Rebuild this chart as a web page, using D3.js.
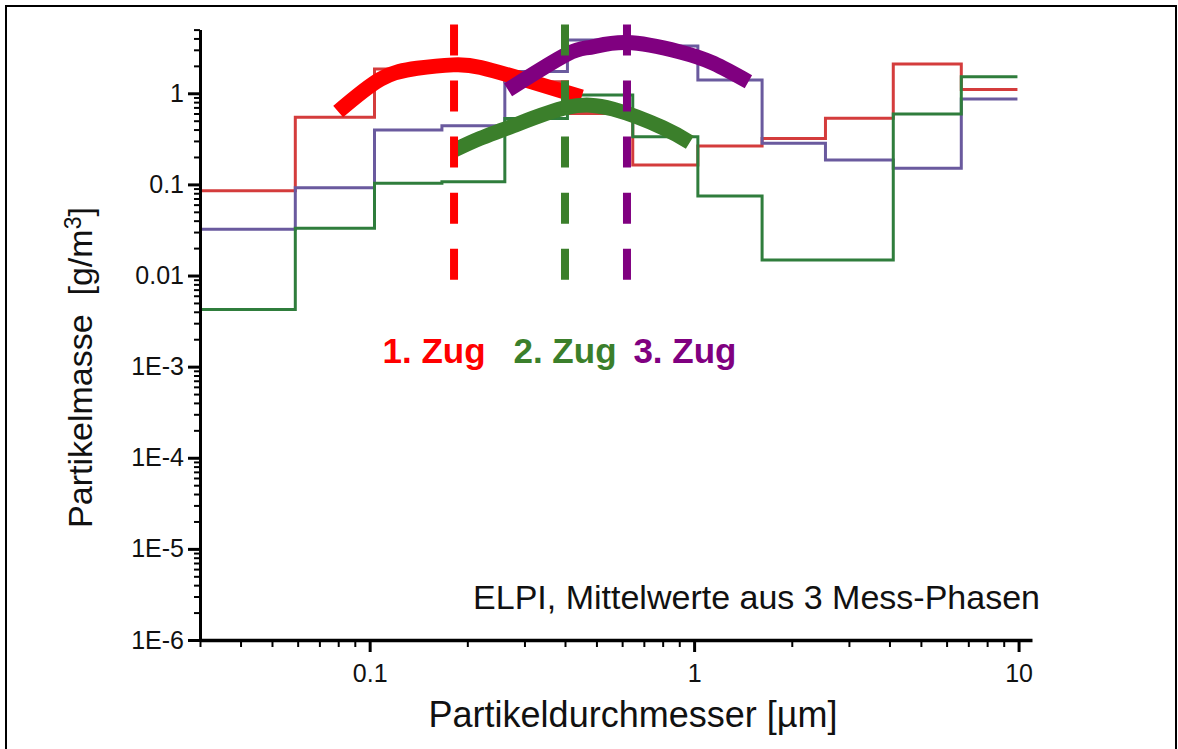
<!DOCTYPE html>
<html>
<head>
<meta charset="utf-8">
<script src="https://cdn.jsdelivr.net/npm/d3@7"></script>
<style>
  body { margin: 0; background: #fff; }
  text { font-family: "Liberation Sans", Arial, sans-serif; }
</style>
</head>
<body>
<div id="chart"></div>
<script>
// ELPI stage boundaries (µm)
var binEdges = [0.03, 0.059, 0.1035, 0.167, 0.261, 0.407, 0.647, 1.027, 1.62, 2.54, 4.11, 6.66, 9.92];

// step values, g/m3, one per stage
var redSteps    = [0.085, 0.545, 1.85, 1.85, 1.34, 0.60, 0.163, 0.264, 0.32, 0.531, 2.1, 1.1];
var purpleSteps = [0.0321, 0.092, 0.395, 0.44, 1.73, 3.85, 3.3, 1.4, 0.283, 0.185, 0.150, 0.866];
var greenSteps  = [0.00425, 0.033, 0.103, 0.107, 0.53, 0.96, 0.334, 0.0746, 0.0148, 0.0148, 0.593, 1.52];

// thick fitted curves [diameter, mass]
var redArc    = [[0.080, 0.63], [0.108, 1.43], [0.14, 1.88], [0.181, 2.05], [0.22, 1.92], [0.31, 1.36], [0.45, 0.91]];
var greenArc  = [[0.181, 0.235], [0.219, 0.32], [0.277, 0.44], [0.405, 0.70], [0.563, 0.67], [0.80, 0.42], [0.97, 0.29]];
var purpleArc = [[0.267, 1.09], [0.405, 2.68], [0.48, 3.2], [0.62, 3.6], [0.90, 2.86], [1.15, 2.13], [1.47, 1.34]];

// dashed markers at the modes
var modeX = [0.182, 0.400, 0.621];
var modeTop = 5.7, modeBottom = 0.0089;
var zugLabels = ["1. Zug", "2. Zug", "3. Zug"];
var zugLabelX = [0.158, 0.400, 0.937];

var yMajor = [1e-6, 1e-5, 1e-4, 1e-3, 0.01, 0.1, 1];
var yTickLabels = ["1E-6", "1E-5", "1E-4", "1E-3", "0.01", "0.1", "1"];
var xMajor = [0.1, 1, 10];
var xTickLabels = ["0.1", "1", "10"];

var W = 1178, H = 749;

var svg = d3.select('#chart')
	.append('svg')
	.attr('width', W)
	.attr('height', H);

svg.append('rect')
	.attr('width', W).attr('height', H)
	.attr('fill', '#fff');

// outer frame (bottom edge falls outside the picture)
svg.append('rect')
	.attr('x', 6).attr('y', 6)
	.attr('width', 1170).attr('height', 780)
	.attr('fill', 'none')
	.attr('stroke', '#000')
	.attr('stroke-width', 2);

var x = d3.scaleLog().domain([0.03, 11]).range([200, 1032]);
var y = d3.scaleLog().domain([1e-6, 5]).range([640, 29.6]);

var colors = {
	redStep: '#d43c3c', purpleStep: '#6a5a9e', greenStep: '#2f7d3c',
	red: '#ff0000', green: '#3b7f2b', purple: '#800080'
};

// step lines
var stepLine = d3.line()
	.x(function(d) { return x(d[0]); })
	.y(function(d) { return y(d[1]); })
	.curve(d3.curveStepAfter);

function stepPoints(vals) {
	var pts = vals.map(function(v, i) { return [binEdges[i], v]; });
	pts.push([binEdges[binEdges.length - 1], vals[vals.length - 1]]);
	return pts;
}

[[redSteps, colors.redStep], [purpleSteps, colors.purpleStep], [greenSteps, colors.greenStep]].forEach(function(s) {
	svg.append('path')
		.attr('d', stepLine(stepPoints(s[0])))
		.attr('fill', 'none')
		.attr('stroke', s[1])
		.attr('stroke-width', 3);
});

// thick arcs
var arcLine = d3.line()
	.x(function(d) { return x(d[0]); })
	.y(function(d) { return y(d[1]); })
	.curve(d3.curveNatural);

[[redArc, colors.red], [greenArc, colors.green], [purpleArc, colors.purple]].forEach(function(a) {
	svg.append('path')
		.attr('d', arcLine(a[0]))
		.attr('fill', 'none')
		.attr('stroke', a[1])
		.attr('stroke-width', 15)
		.attr('stroke-linecap', 'butt');
});

// dashed mode lines
var modeColors = [colors.red, colors.green, colors.purple];
svg.selectAll('line.mode')
	.data(modeX)
	.enter()
	.append('line')
	.attr('class', 'mode')
	.attr('x1', function(d) { return x(d); })
	.attr('x2', function(d) { return x(d); })
	.attr('y1', y(modeTop))
	.attr('y2', y(modeBottom))
	.attr('stroke', function(d, i) { return modeColors[i]; })
	.attr('stroke-width', 8)
	.attr('stroke-dasharray', '31,25.1');

svg.selectAll('text.zug')
	.data(zugLabels)
	.enter()
	.append('text')
	.attr('class', 'zug')
	.attr('x', function(d, i) { return x(zugLabelX[i]); })
	.attr('y', 363)
	.attr('text-anchor', 'middle')
	.attr('font-size', '35px')
	.attr('font-weight', 'bold')
	.attr('fill', function(d, i) { return modeColors[i]; })
	.text(function(d) { return d; });

// axes
var yMinor = y.ticks().filter(function(t) {
	return yMajor.indexOf(t) < 0 && t <= 5;
});
var xMinor = x.ticks().filter(function(t) {
	return xMajor.indexOf(t) < 0 && t >= 0.03 && t <= 11;
});

var gy = svg.append('g').attr('transform', 'translate(200,0)');
gy.append('g')
	.call(d3.axisLeft(y).tickValues(yMinor).tickSize(6).tickFormat(''))
	.call(function(g) {
		g.select('.domain').remove();
		g.selectAll('line').attr('stroke-width', 2);
	});
gy.append('g')
	.call(d3.axisLeft(y).tickValues(yMajor).tickSize(12).tickSizeOuter(0).tickPadding(4)
		.tickFormat(function(d, i) { return yTickLabels[i]; }))
	.call(function(g) {
		g.select('.domain').attr('stroke-width', 3);
		g.selectAll('line').attr('stroke-width', 3);
		g.selectAll('text').attr('font-size', '25px').attr('font-family', '"Liberation Sans", Arial, sans-serif').attr('fill', '#111');
	});

var gx = svg.append('g').attr('transform', 'translate(0,640)');
gx.append('g')
	.call(d3.axisBottom(x).tickValues(xMinor).tickSize(7).tickFormat(''))
	.call(function(g) {
		g.select('.domain').remove();
		g.selectAll('line').attr('stroke-width', 2);
	});
gx.append('g')
	.call(d3.axisBottom(x).tickValues(xMajor).tickSize(12).tickSizeOuter(0).tickPadding(12)
		.tickFormat(function(d, i) { return xTickLabels[i]; }))
	.call(function(g) {
		g.select('.domain').attr('stroke-width', 3.5);
		g.selectAll('line').attr('stroke-width', 3);
		g.selectAll('text').attr('font-size', '25px').attr('font-family', '"Liberation Sans", Arial, sans-serif').attr('fill', '#111');
	});

// titles
svg.append('text')
	.attr('x', 633)
	.attr('y', 727)
	.attr('text-anchor', 'middle')
	.attr('font-size', '36px')
	.attr('fill', '#111')
	.text('Partikeldurchmesser [µm]');

var yt = svg.append('text')
	.attr('transform', 'translate(91.7,367.5) rotate(-90)')
	.attr('text-anchor', 'middle')
	.attr('font-size', '34px')
	.attr('fill', '#111')
	.style('white-space', 'pre');
yt.append('tspan').text('Partikelmasse  [g/m');
yt.append('tspan').attr('dy', '-0.45em').attr('font-size', '23px').text('3');
yt.append('tspan').attr('dy', '0.3em').text(']');

svg.append('text')
	.attr('x', 1040)
	.attr('y', 609)
	.attr('text-anchor', 'end')
	.attr('font-size', '34px')
	.attr('fill', '#111')
	.text('ELPI, Mittelwerte aus 3 Mess-Phasen');
</script>
</body>
</html>
